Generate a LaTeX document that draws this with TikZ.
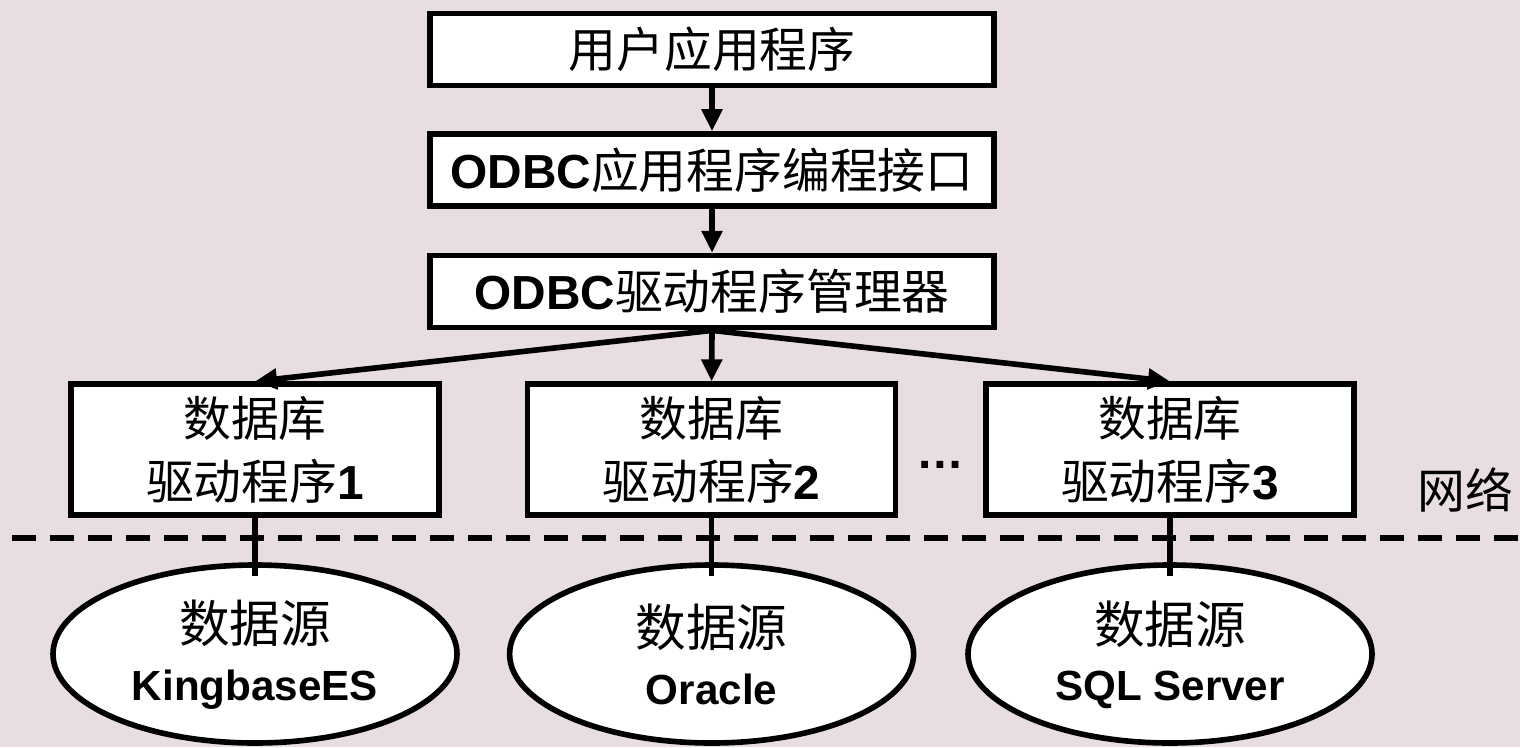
\documentclass[tikz,border=0pt]{standalone}
\usepackage{fontspec}
\setmainfont{Noto Sans CJK SC}
\newfontfamily\arialfont{Liberation Sans}
\newcommand{\enb}[1]{{\arialfont\bfseries #1}}
\newcommand{\ens}[1]{{\arialfont\bfseries\fontsize{30}{40}\selectfont #1}}
\usetikzlibrary{shapes.geometric,arrows.meta}
\definecolor{slidebg}{RGB}{232,221,224}
\tikzset{
	layer/.style={draw,line width=4pt,fill=white,minimum width=14.1cm,minimum height=1.8cm,inner sep=0pt,font=\fontsize{34}{45}\selectfont},
	driver/.style={draw,line width=4pt,fill=white,minimum width=9.2cm,minimum height=3.27cm,inner sep=0pt,align=center,font=\fontsize{34}{45}\selectfont},
	source/.style={draw,ellipse,line width=4pt,fill=white,minimum width=10.1cm,minimum height=4.45cm,inner sep=0pt,align=center,font=\fontsize{36}{41}\selectfont},
	link/.style={-{Triangle[length=0.55cm,width=0.5cm]},line width=4pt},
	wire/.style={line width=4pt},
	netline/.style={line width=4pt,dash pattern=on 0.6cm off 0.35cm,dash phase=0.65cm},
}
\begin{document}
\begin{tikzpicture}
		\fill[slidebg] (0,0) rectangle (38,-18.675);
		\useasboundingbox (0,0) rectangle (38,-18.675);
		
		\node[layer] (app) at (17.8,-1.24) {用户应用程序};
		\node[layer] (api) at (17.8,-4.25) {\enb{ODBC}应用程序编程接口};
		\node[layer] (mgr) at (17.8,-7.29) {\enb{ODBC}驱动程序管理器};
		
		\node[driver] (drv1) at (6.375,-11.24) {数据库\\驱动程序\enb{1}};
		\node[driver] (drv2) at (17.79,-11.24) {数据库\\驱动程序\enb{2}};
		\node[driver] (drv3) at (29.25,-11.24) {数据库\\驱动程序\enb{3}};
		\node[anchor=base,font=\fontsize{34}{45}\selectfont] (dots) at (23.5,-11.7) {\enb{…}};
		
		\draw[link] (app) -- (api);
		\draw[link] (api) -- (mgr);
		\draw[link] (mgr.south) -- (drv1.north);
		\draw[link] (mgr.south) -- (drv2.north);
		\draw[link] (mgr.south) -- (drv3.north);
		
		% network boundary
		\draw[netline] (0,-13.45) -- (38,-13.45);
		\node[font=\fontsize{34}{45}\selectfont] (net) at (36.625,-12.25) {网络};
		
		\node[source] (src1) at (6.375,-16.35) {\rule{0pt}{1.1cm}数据源\\\ens{KingbaseES}};
		\node[source] (src2) at (17.79,-16.35) {\rule{0pt}{1.1cm}数据源\\\ens{Oracle}};
		\node[source] (src3) at (29.25,-16.35) {\rule{0pt}{1.1cm}数据源\\\ens{SQL Server}};
		
		\draw[wire] (drv1.south) -- ([yshift=-0.35cm]src1.north);
		\draw[wire] (drv2.south) -- ([yshift=-0.35cm]src2.north);
		\draw[wire] (drv3.south) -- ([yshift=-0.35cm]src3.north);
	\end{tikzpicture}
\end{document}
